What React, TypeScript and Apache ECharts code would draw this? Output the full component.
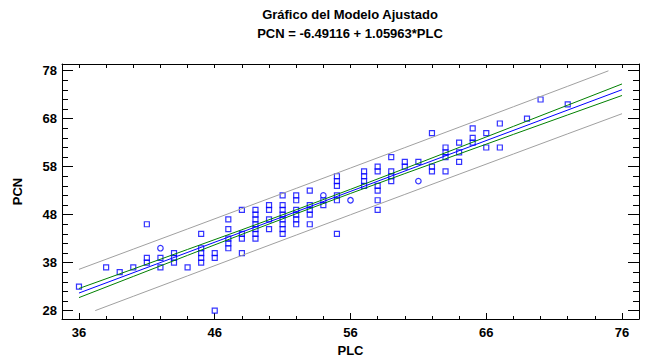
import React, { useEffect, useRef } from "react";
import * as echarts from "echarts";

// ---- Data ----
const squareX = [
  36, 38, 39, 40,
  41, 41, 41,
  42, 42,
  43, 43, 43,
  44,
  45, 45, 45, 45, 45,
  46, 46, 46,
  47, 47, 47, 47, 47,
  48, 48, 48, 48,
  49, 49, 49, 49, 49, 49, 49,
  50, 50, 50, 50,
  51, 51, 51, 51, 51, 51, 51, 51,
  52, 52, 52, 52, 52, 52,
  53, 53, 53, 53, 53,
  54, 54,
  55, 55, 55, 55, 55, 55,
  57, 57, 57, 57,
  58, 58, 58, 58, 58, 58,
  59, 59, 59, 59,
  60, 60,
  61,
  62, 62, 62,
  63, 63, 63, 63,
  64, 64, 64,
  65, 65, 65,
  66, 66,
  67, 67,
  69, 70, 72,
];
const squareY = [
  33, 37, 36, 37,
  46, 39, 38,
  39, 37,
  40, 39, 38,
  37,
  44, 41, 40, 39, 38,
  40, 39, 28,
  47, 45, 43, 42, 41,
  49, 44, 43, 40,
  49, 48, 47, 46, 45, 44, 43,
  50, 49, 47, 45,
  52, 50, 49, 48, 47, 46, 45, 44,
  52, 51, 49, 48, 47, 46,
  53, 50, 49, 48, 46,
  51, 50,
  56, 55, 54, 52, 51, 44,
  57, 56, 55, 54,
  58, 57, 54, 53, 51, 49,
  60, 57, 56, 55,
  59, 58,
  59,
  65, 58, 57,
  62, 61, 60, 57,
  63, 61, 59,
  66, 64, 63,
  65, 62,
  67, 62,
  68, 72, 71,
];
const circleX = [42, 54, 56, 61];
const circleY = [41, 52, 51, 55];

// fitted line PCN = -6.49116 + 1.05963*PLC
const fitX = [36, 76];
const fitY = [31.66, 74.04];

// confidence limits (green)
const bandX = [36, 40, 44, 48, 52, 56, 60, 64, 68, 72, 76];
const confUpper = [32.61, 36.67, 40.75, 44.85, 49.02, 53.28, 57.61, 62.0, 66.4, 70.82, 75.24];
const confLower = [30.71, 35.12, 39.52, 43.89, 48.2, 52.42, 56.56, 60.66, 64.73, 68.79, 72.84];

// prediction limits (gray)
const predUpperX = [36, 40, 44, 48, 52, 56, 60, 64, 68, 72, 75];
const predUpperY = [36.6, 40.81, 45.02, 49.25, 53.48, 57.72, 61.97, 66.22, 70.49, 74.76, 77.98];
const predLowerX = [37.2, 40, 44, 48, 52, 56, 60, 64, 68, 72, 76];
const predLowerY = [28.0, 30.98, 35.24, 39.5, 43.74, 47.98, 52.21, 56.43, 60.64, 64.85, 69.04];

// axis ticks
const xMajorTicks = [36, 46, 56, 66, 76];
const xMinorTicks = [36, 38, 40, 42, 44, 46, 48, 50, 52, 54, 56, 58, 60, 62, 64, 66, 68, 70, 72, 74, 76];
const yMajorTicks = [28, 38, 48, 58, 68, 78];
const yMinorTicks = [28, 30, 32, 34, 36, 38, 40, 42, 44, 46, 48, 50, 52, 54, 56, 58, 60, 62, 64, 66, 68, 70, 72, 74, 76, 78];

const titleText = "Gráfico del Modelo Ajustado";
const subtitleText = "PCN = -6.49116 + 1.05963*PLC";
const xName = "PLC";
const yName = "PCN";

const X_MIN = 34.75;
const X_MAX = 77.25;
const Y_MIN = 26.25;
const Y_MAX = 79.4;

const FONT = "'Liberation Sans', Arial, sans-serif";

const zip = (xs: number[], ys: number[]) => xs.map((x, i) => [x, ys[i]]);

export default function App() {
  const ref = useRef<HTMLDivElement>(null);

  useEffect(() => {
    if (!ref.current) return;
    const chart = echarts.init(ref.current, null, { renderer: "svg" });

    const baseX = {
      type: "value" as const,
      min: X_MIN,
      max: X_MAX,
      splitLine: { show: false },
    };
    const baseY = {
      type: "value" as const,
      min: Y_MIN,
      max: Y_MAX,
      splitLine: { show: false },
    };
    const lineStyleAxis = { color: "#000", width: 1 };

    const lineSeries = (xs: number[], ys: number[], color: string) => ({
      type: "line",
      data: zip(xs, ys),
      showSymbol: false,
      symbol: "none",
      lineStyle: { color, width: 1 },
      itemStyle: { color },
      xAxisIndex: 0,
      yAxisIndex: 0,
      silent: true,
      z: 3,
    });

    chart.setOption({
      animation: false,
      backgroundColor: "#fff",
      grid: {
        left: 62,
        top: 64,
        right: 13,
        bottom: 39,
        containLabel: false,
        outerBoundsMode: "none",
      },
      graphic: [
        {
          type: "text",
          x: 350,
          y: 14,
          style: {
            text: titleText,
            fill: "#000",
            font: `bold 13px ${FONT}`,
            textAlign: "center",
            textVerticalAlign: "middle",
          },
        },
        {
          type: "text",
          x: 350,
          y: 33,
          style: {
            text: subtitleText,
            fill: "#000",
            font: `bold 13px ${FONT}`,
            textAlign: "center",
            textVerticalAlign: "middle",
          },
        },
      ],
      xAxis: [
        {
          ...baseX,
          position: "bottom",
          axisLine: { show: true, onZero: false, lineStyle: lineStyleAxis },
          axisTick: {
            show: true,
            inside: true,
            length: 6,
            customValues: xMajorTicks,
            lineStyle: lineStyleAxis,
          },
          axisLabel: {
            show: true,
            customValues: xMajorTicks,
            margin: 7,
            color: "#000",
            fontFamily: FONT,
            fontWeight: "bold",
            fontSize: 13,
          },
          name: xName,
          nameLocation: "middle",
          nameGap: 22,
          nameTextStyle: {
            color: "#000",
            fontFamily: FONT,
            fontWeight: "bold",
            fontSize: 13,
          },
        },
        {
          ...baseX,
          position: "bottom",
          axisLine: { show: false, onZero: false },
          axisTick: {
            show: true,
            inside: true,
            length: 3,
            customValues: xMinorTicks,
            lineStyle: lineStyleAxis,
          },
          axisLabel: { show: false },
        },
        {
          ...baseX,
          position: "top",
          axisLine: { show: true, onZero: false, lineStyle: lineStyleAxis },
          axisTick: {
            show: true,
            inside: true,
            length: 4,
            customValues: xMinorTicks,
            lineStyle: lineStyleAxis,
          },
          axisLabel: { show: false },
        },
      ],
      yAxis: [
        {
          ...baseY,
          position: "left",
          axisLine: { show: true, onZero: false, lineStyle: lineStyleAxis },
          axisTick: {
            show: true,
            inside: true,
            length: 11,
            customValues: yMajorTicks,
            lineStyle: lineStyleAxis,
          },
          axisLabel: {
            show: true,
            customValues: yMajorTicks,
            margin: 5,
            color: "#000",
            fontFamily: FONT,
            fontWeight: "bold",
            fontSize: 13,
          },
          name: yName,
          nameLocation: "middle",
          nameRotate: 90,
          nameGap: 38,
          nameTextStyle: {
            color: "#000",
            fontFamily: FONT,
            fontWeight: "bold",
            fontSize: 13,
          },
        },
        {
          ...baseY,
          position: "left",
          axisLine: { show: false, onZero: false },
          axisTick: {
            show: true,
            inside: true,
            length: 6,
            customValues: yMinorTicks,
            lineStyle: lineStyleAxis,
          },
          axisLabel: { show: false },
        },
        {
          ...baseY,
          position: "right",
          axisLine: { show: true, onZero: false, lineStyle: lineStyleAxis },
          axisTick: {
            show: true,
            inside: true,
            length: 11,
            customValues: yMajorTicks,
            lineStyle: lineStyleAxis,
          },
          axisLabel: { show: false },
        },
        {
          ...baseY,
          position: "right",
          axisLine: { show: false, onZero: false },
          axisTick: {
            show: true,
            inside: true,
            length: 6,
            customValues: yMinorTicks,
            lineStyle: lineStyleAxis,
          },
          axisLabel: { show: false },
        },
      ],
      series: [
        {
          type: "scatter",
          data: zip(squareX, squareY),
          symbol: "rect",
          symbolSize: 5,
          itemStyle: { color: "rgba(0,0,0,0)", borderColor: "#0000ff", borderWidth: 1.2 },
          xAxisIndex: 0,
          yAxisIndex: 0,
          silent: true,
          z: 2,
        },
        {
          type: "scatter",
          data: zip(circleX, circleY),
          symbol: "circle",
          symbolSize: 5.5,
          itemStyle: { color: "rgba(0,0,0,0)", borderColor: "#0000ff", borderWidth: 1.2 },
          xAxisIndex: 0,
          yAxisIndex: 0,
          silent: true,
          z: 2,
        },
        lineSeries(predUpperX, predUpperY, "#a0a0a0"),
        lineSeries(predLowerX, predLowerY, "#a0a0a0"),
        lineSeries(bandX, confUpper, "#008000"),
        lineSeries(bandX, confLower, "#008000"),
        lineSeries(fitX, fitY, "#0000ff"),
      ],
    });

    return () => {
      chart.dispose();
    };
  }, []);

  return (
    <div
      ref={ref}
      style={{ position: "absolute", left: 0, top: 0, width: 652, height: 358 }}
    />
  );
}
